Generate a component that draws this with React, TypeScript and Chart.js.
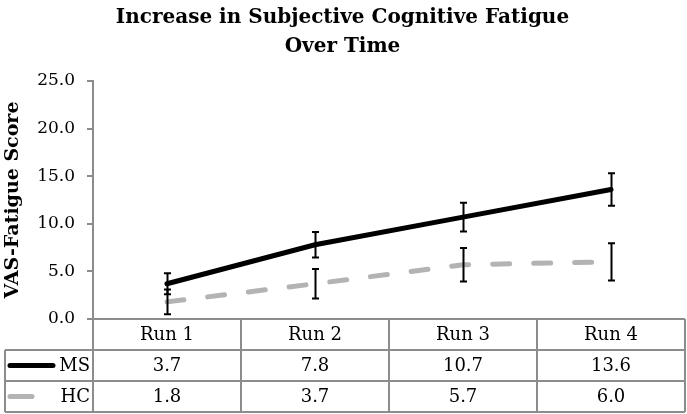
import React, { useEffect, useRef } from "react";
import { Chart, registerables } from "chart.js";

Chart.register(...registerables);

const categories = ["Run 1", "Run 2", "Run 3", "Run 4"];
const msValues = [3.7, 7.8, 10.7, 13.6];
const hcValues = [1.8, 3.7, 5.7, 6.0];
const msErrors = [1.1, 1.35, 1.5, 1.7];
const hcErrors = [1.3, 1.55, 1.75, 1.95];
const seriesNames = ["MS", "HC"];
const yTicks = [0, 5, 10, 15, 20, 25];

const SERIF = "'DejaVu Serif', 'Liberation Serif', serif";
const GRAY = "#8c8c8c";

export default function App() {
  const ref = useRef<HTMLCanvasElement | null>(null);

  useEffect(() => {
    document.body.style.margin = "0";
    const canvas = ref.current;
    if (!canvas) return;

    const errorAndTable = {
      id: "errorAndTable",
      afterDatasetsDraw(chart: any) {
        const ctx = chart.ctx;
        const x = chart.scales.x;
        const y = chart.scales.y;
        const sets = [
          { v: hcValues, e: hcErrors },
          { v: msValues, e: msErrors },
        ];
        ctx.save();
        ctx.strokeStyle = "#000";
        ctx.lineWidth = 2;
        sets.forEach((s) => {
          s.v.forEach((val, i) => {
            const px = Math.round(x.getPixelForValue(i)) + 0.5;
            const top = y.getPixelForValue(val + s.e[i]);
            const bot = y.getPixelForValue(val - s.e[i]);
            ctx.beginPath();
            ctx.moveTo(px, top);
            ctx.lineTo(px, bot);
            ctx.moveTo(px - 3.5, top);
            ctx.lineTo(px + 3.5, top);
            ctx.moveTo(px - 3.5, bot);
            ctx.lineTo(px + 3.5, bot);
            ctx.stroke();
          });
        });
        ctx.restore();
      },
      afterDraw(chart: any) {
        const ctx = chart.ctx;
        const x = chart.scales.x;
        const area = chart.chartArea;
        const rowH = 31;
        const top = area.bottom;
        const leftEdge = 5;
        const half = (x.getPixelForValue(1) - x.getPixelForValue(0)) / 2;
        const bounds = categories.map((_, i) => x.getPixelForValue(i) - half);
        bounds.push(x.getPixelForValue(categories.length - 1) + half);
        const bottom = top + rowH * 3;

        ctx.save();
        ctx.strokeStyle = GRAY;
        ctx.lineWidth = 2;
        ctx.beginPath();
        ctx.moveTo(area.left, top);
        ctx.lineTo(bounds[bounds.length - 1], top);
        for (let r = 1; r <= 3; r++) {
          ctx.moveTo(leftEdge, top + rowH * r);
          ctx.lineTo(bounds[bounds.length - 1], top + rowH * r);
        }
        bounds.forEach((bx) => {
          ctx.moveTo(bx, top);
          ctx.lineTo(bx, bottom);
        });
        ctx.moveTo(leftEdge, top + rowH);
        ctx.lineTo(leftEdge, bottom);
        ctx.stroke();

        ctx.fillStyle = "#000";
        ctx.font = `18px ${SERIF}`;
        ctx.textAlign = "center";
        ctx.textBaseline = "middle";
        categories.forEach((c, i) => {
          ctx.fillText(c, x.getPixelForValue(i), top + rowH / 2 + 1);
        });
        const rows = [msValues, hcValues];
        rows.forEach((vals, r) => {
          vals.forEach((v, i) => {
            ctx.fillText(v.toFixed(1), x.getPixelForValue(i), top + rowH * (r + 1.5) + 1);
          });
        });
        ctx.textAlign = "right";
        seriesNames.forEach((n, r) => {
          const cy = top + rowH * (r + 1.5);
          ctx.fillText(n, area.left - 3, cy + 1);
        });
        ctx.lineCap = "round";
        ctx.lineWidth = 5;
        ctx.strokeStyle = "#000";
        ctx.beginPath();
        ctx.moveTo(leftEdge + 5, top + rowH * 1.5);
        ctx.lineTo(leftEdge + 48, top + rowH * 1.5);
        ctx.stroke();
        ctx.strokeStyle = "#b3b3b3";
        ctx.beginPath();
        ctx.moveTo(leftEdge + 5, top + rowH * 2.5);
        ctx.lineTo(leftEdge + 27, top + rowH * 2.5);
        ctx.stroke();
        ctx.restore();
      },
    };

    const chart = new Chart(canvas, {
      type: "line",
      data: {
        labels: categories,
        datasets: [
          {
            label: seriesNames[1],
            data: hcValues,
            borderColor: "#b3b3b3",
            borderWidth: 5,
            borderDash: [17, 24],
            borderCapStyle: "round",
            pointRadius: 0,
            tension: 0,
          },
          {
            label: seriesNames[0],
            data: msValues,
            borderColor: "#000000",
            borderWidth: 5,
            borderCapStyle: "round",
            pointRadius: 0,
            tension: 0,
          },
        ],
      },
      options: {
        animation: false,
        responsive: false,
        devicePixelRatio: 1,
        layout: { padding: { left: 0, right: 2, top: 0, bottom: 95 } },
        plugins: {
          legend: { display: false },
          tooltip: { enabled: false },
          title: {
            display: true,
            text: ["Increase in Subjective Cognitive Fatigue", "Over Time"],
            color: "#000",
            font: { family: SERIF, size: 20, weight: "bold", lineHeight: 1.45 },
            padding: { top: 3, bottom: 20 },
          },
        },
        scales: {
          x: {
            type: "category",
            display: false,
            offset: true,
          },
          y: {
            min: 0,
            max: 25,
            afterBuildTicks: (scale: any) => {
              scale.ticks = yTicks.map((v) => ({ value: v }));
            },
            afterFit: (scale: any) => {
              scale.width = 93;
            },
            ticks: {
              color: "#000",
              font: { family: SERIF, size: 17 },
              padding: 12,
              callback: (v: any) => Number(v).toFixed(1),
            },
            grid: {
              drawOnChartArea: false,
              drawTicks: true,
              tickLength: 6,
              color: GRAY,
              lineWidth: 2,
            },
            border: { display: true, color: GRAY, width: 2 },
            title: {
              display: true,
              text: "VAS-Fatigue Score",
              color: "#000",
              font: { family: SERIF, size: 19, weight: "bold" },
              padding: { top: 2, bottom: 0 },
            },
          },
        },
      },
      plugins: [errorAndTable],
    } as any);

    return () => chart.destroy();
  }, []);

  return <canvas ref={ref} width={687} height={414} style={{ display: "block" }} />;
}
